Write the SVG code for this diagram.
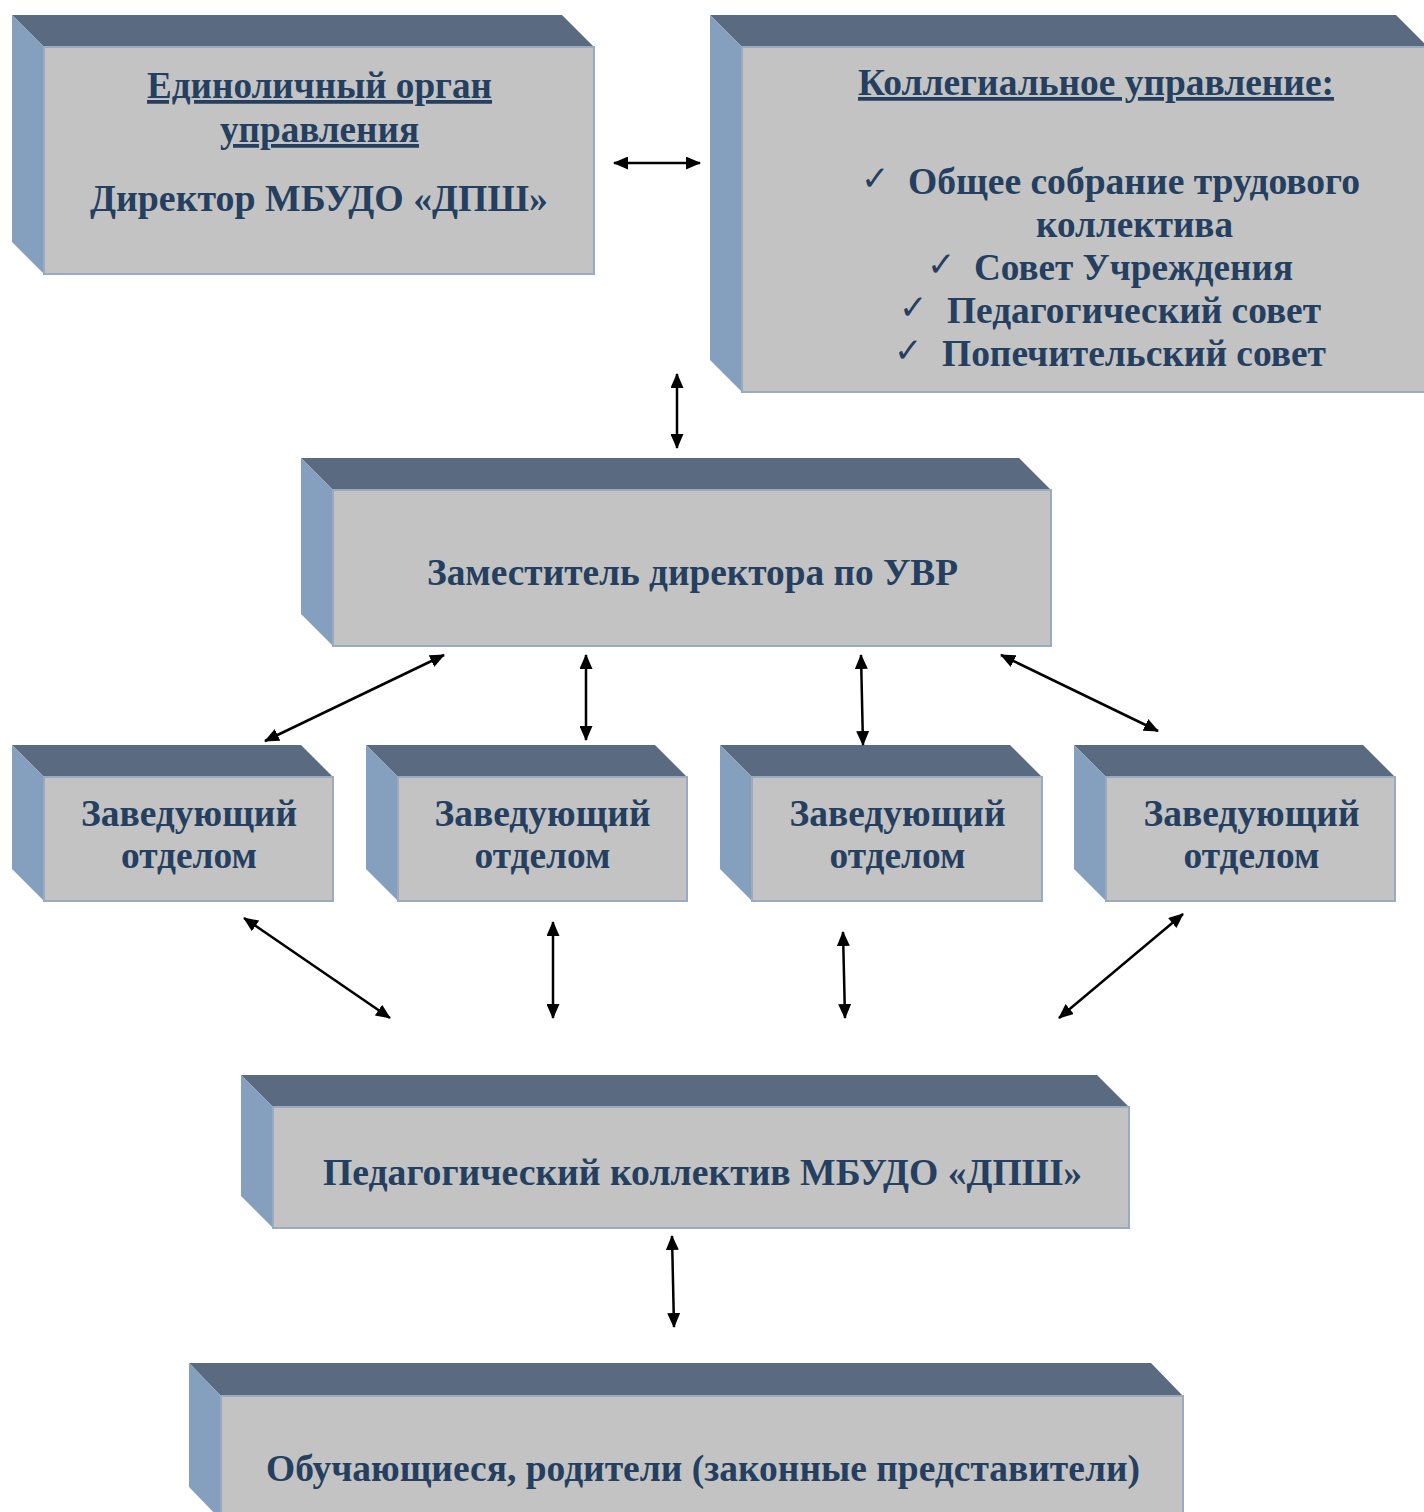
<svg xmlns="http://www.w3.org/2000/svg" width="1424" height="1512" viewBox="0 0 1424 1512">
<style>
.top{fill:#5a6a81}
.side{fill:#859fbf}
.front{fill:#c3c3c3;stroke:#9aaac0;stroke-width:2}
.t{font-family:"Liberation Serif","Times New Roman",serif;font-weight:bold;font-size:37.5px;fill:#243f60;text-anchor:middle}
.u{text-decoration:underline}
.ck{font-family:"DejaVu Sans",sans-serif;font-size:34px;fill:#243f60}
.s{font-family:"Liberation Serif","Times New Roman",serif;font-weight:bold;font-size:37.5px;fill:#243f60}
.c{stroke:#000;stroke-width:2.5;fill:none;marker-start:url(#ah);marker-end:url(#ah)}
</style>
<defs>
<marker id="ah" markerUnits="userSpaceOnUse" markerWidth="15" markerHeight="13" viewBox="0 0 15 13" refX="14" refY="6.5" orient="auto-start-reverse">
<path d="M0,0 L15,6.5 L0,13 z" fill="#000"/>
</marker>
</defs>
<rect width="1424" height="1512" fill="#fff"/>

<g id="node-director">
<polygon class="top" points="12,15 562,15 594,47 44,47"/>
<polygon class="side" points="12,15 44,47 44,274 12,242"/>
<rect class="front" x="44" y="47" width="550" height="227"/>
<text class="t u" x="319.5" y="98" textLength="345" lengthAdjust="spacingAndGlyphs">Единоличный орган</text>
<text class="t u" x="319.5" y="142" textLength="199" lengthAdjust="spacingAndGlyphs">управления</text>
<text class="t" x="319" y="211" textLength="458" lengthAdjust="spacingAndGlyphs">Директор МБУДО «ДПШ»</text>
</g>

<g id="node-collegial">
<polygon class="top" points="710,15 1396,15 1428,47 742,47"/>
<polygon class="side" points="710,15 742,47 742,392 710,360"/>
<rect class="front" x="742" y="47" width="690" height="345"/>
<text class="t u" x="1096" y="95" textLength="476" lengthAdjust="spacingAndGlyphs">Коллегиальное управление:</text>
<text class="ck" x="861" y="190">✓</text>
<text class="s" x="908" y="194" textLength="452" lengthAdjust="spacingAndGlyphs">Общее собрание трудового</text>
<text class="t" x="1134.5" y="237" textLength="197" lengthAdjust="spacingAndGlyphs">коллектива</text>
<text class="ck" x="927" y="276">✓</text>
<text class="s" x="974" y="280" textLength="319" lengthAdjust="spacingAndGlyphs">Совет Учреждения</text>
<text class="ck" x="899" y="319">✓</text>
<text class="s" x="947" y="323" textLength="374" lengthAdjust="spacingAndGlyphs">Педагогический совет</text>
<text class="ck" x="894" y="362">✓</text>
<text class="s" x="942" y="366" textLength="384" lengthAdjust="spacingAndGlyphs">Попечительский совет</text>
</g>

<g id="node-deputy">
<polygon class="top" points="301,458 1019,458 1051,490 333,490"/>
<polygon class="side" points="301,458 333,490 333,646 301,614"/>
<rect class="front" x="333" y="490" width="718" height="156"/>
<text class="t" x="692.5" y="585" textLength="531" lengthAdjust="spacingAndGlyphs">Заместитель директора по УВР</text>
</g>

<g id="node-head-1">
<polygon class="top" points="12,745 301,745 333,777 44,777"/>
<polygon class="side" points="12,745 44,777 44,901 12,869"/>
<rect class="front" x="44" y="777" width="289" height="124"/>
<text class="t" x="189" y="826" textLength="216" lengthAdjust="spacingAndGlyphs">Заведующий</text>
<text class="t" x="189" y="868" textLength="136" lengthAdjust="spacingAndGlyphs">отделом</text>
</g>

<g id="node-head-2">
<polygon class="top" points="366,745 655,745 687,777 398,777"/>
<polygon class="side" points="366,745 398,777 398,901 366,869"/>
<rect class="front" x="398" y="777" width="289" height="124"/>
<text class="t" x="542.5" y="826" textLength="216" lengthAdjust="spacingAndGlyphs">Заведующий</text>
<text class="t" x="542.5" y="868" textLength="136" lengthAdjust="spacingAndGlyphs">отделом</text>
</g>

<g id="node-head-3">
<polygon class="top" points="720,745 1010,745 1042,777 752,777"/>
<polygon class="side" points="720,745 752,777 752,901 720,869"/>
<rect class="front" x="752" y="777" width="290" height="124"/>
<text class="t" x="897.5" y="826" textLength="216" lengthAdjust="spacingAndGlyphs">Заведующий</text>
<text class="t" x="897.5" y="868" textLength="136" lengthAdjust="spacingAndGlyphs">отделом</text>
</g>

<g id="node-head-4">
<polygon class="top" points="1074,745 1363,745 1395,777 1106,777"/>
<polygon class="side" points="1074,745 1106,777 1106,901 1074,869"/>
<rect class="front" x="1106" y="777" width="289" height="124"/>
<text class="t" x="1251.5" y="826" textLength="216" lengthAdjust="spacingAndGlyphs">Заведующий</text>
<text class="t" x="1251.5" y="868" textLength="136" lengthAdjust="spacingAndGlyphs">отделом</text>
</g>

<g id="node-staff">
<polygon class="top" points="241,1075 1097,1075 1129,1107 273,1107"/>
<polygon class="side" points="241,1075 273,1107 273,1228 241,1196"/>
<rect class="front" x="273" y="1107" width="856" height="121"/>
<text class="t" x="702.5" y="1185" textLength="759" lengthAdjust="spacingAndGlyphs">Педагогический коллектив МБУДО «ДПШ»</text>
</g>

<g id="node-students">
<polygon class="top" points="189,1363 1151,1363 1183,1396 221,1396"/>
<polygon class="side" points="189,1363 221,1396 221,1520 189,1487"/>
<rect class="front" x="221" y="1396" width="962" height="130"/>
<text class="t" x="703" y="1481" textLength="874" lengthAdjust="spacingAndGlyphs">Обучающиеся, родители (законные представители)</text>
</g>

<g id="connectors">
<line class="c" x1="614" y1="163" x2="700" y2="163"/>
<line class="c" x1="677" y1="374" x2="677" y2="448"/>
<line class="c" x1="444" y1="655" x2="265" y2="741"/>
<line class="c" x1="586" y1="655" x2="586" y2="740"/>
<line class="c" x1="861" y1="655" x2="863" y2="745"/>
<line class="c" x1="1001" y1="655" x2="1158" y2="731"/>
<line class="c" x1="244" y1="918" x2="390" y2="1018"/>
<line class="c" x1="553" y1="922" x2="553" y2="1018"/>
<line class="c" x1="843" y1="932" x2="845" y2="1018"/>
<line class="c" x1="1183" y1="914" x2="1059" y2="1018"/>
<line class="c" x1="672" y1="1236" x2="674" y2="1327"/>
</g>
</svg>
